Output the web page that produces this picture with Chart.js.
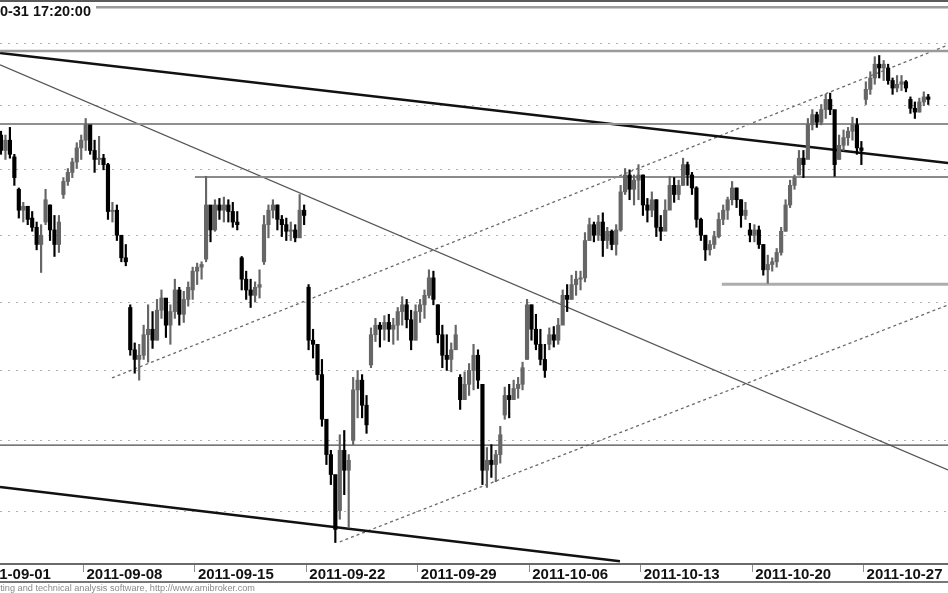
<!DOCTYPE html>
<html>
<head>
<meta charset="utf-8">
<script src="https://cdn.jsdelivr.net/npm/chart.js@4.4.1/dist/chart.umd.min.js"></script>
<style>
  html, body { margin: 0; padding: 0; background: #fff; }
  canvas { display: block; }
</style>
</head>
<body>
<canvas id="chart" width="948" height="593"></canvas>
<script>
// trading days shown on the chart (data starts on the 2nd one)
const days = [
  "2011-09-01", "2011-09-02", "2011-09-05", "2011-09-06", "2011-09-07", "2011-09-08", "2011-09-09",
  "2011-09-12", "2011-09-13", "2011-09-14", "2011-09-15", "2011-09-16",
  "2011-09-19", "2011-09-20", "2011-09-21", "2011-09-22", "2011-09-23",
  "2011-09-26", "2011-09-27", "2011-09-28", "2011-09-29", "2011-09-30",
  "2011-10-03", "2011-10-04", "2011-10-05", "2011-10-06", "2011-10-07",
  "2011-10-10", "2011-10-11", "2011-10-12", "2011-10-13", "2011-10-14",
  "2011-10-17", "2011-10-18", "2011-10-19", "2011-10-20", "2011-10-21",
  "2011-10-24", "2011-10-25", "2011-10-26", "2011-10-27", "2011-10-28",
  "2011-10-31"
];
const barsPerDay = 5;
const firstDay = 1;

const tickDays = [
  "2011-09-01", "2011-09-08", "2011-09-15", "2011-09-22", "2011-09-29",
  "2011-10-06", "2011-10-13", "2011-10-20", "2011-10-27"
];

const high = [
  2381, 2380, 2377, 2383, 2362, 2336, 2325, 2322, 2318, 2310,
  2308, 2335, 2323, 2315, 2315, 2344, 2351, 2359, 2371, 2377,
  2390, 2383, 2373, 2376, 2362, 2355, 2325, 2323, 2298, 2293,
  2248, 2220, 2219, 2233, 2248, 2243, 2252, 2259, 2252, 2248,
  2267, 2261, 2258, 2265, 2276, 2279, 2280, 2345, 2315, 2327,
  2328, 2329, 2327, 2325, 2318, 2284, 2273, 2267, 2265, 2274,
  2315, 2323, 2327, 2323, 2315, 2313, 2310, 2308, 2331, 2323,
  2263, 2230, 2219, 2208, 2163, 2143, 2122, 2154, 2157, 2140,
  2195, 2200, 2197, 2182, 2231, 2238, 2235, 2240, 2241, 2238,
  2246, 2254, 2252, 2244, 2248, 2252, 2259, 2274, 2273, 2248,
  2233, 2226, 2220, 2233, 2197, 2199, 2205, 2219, 2215, 2190,
  2145, 2147, 2143, 2160, 2188, 2190, 2193, 2195, 2206, 2252,
  2248, 2241, 2230, 2219, 2231, 2232, 2238, 2259, 2263, 2270,
  2273, 2273, 2302, 2313, 2310, 2315, 2317, 2306, 2304, 2308,
  2338, 2351, 2350, 2346, 2354, 2346, 2328, 2333, 2327, 2315,
  2327, 2345, 2344, 2342, 2359, 2356, 2348, 2337, 2313, 2300,
  2296, 2303, 2317, 2323, 2329, 2341, 2336, 2327, 2325, 2309,
  2308, 2307, 2293, 2285, 2283, 2290, 2306, 2327, 2342, 2346,
  2365, 2365, 2390, 2397, 2395, 2401, 2409, 2410, 2395, 2377,
  2381, 2383, 2391, 2390, 2372, 2419, 2427, 2439, 2440, 2436,
  2433, 2422, 2424, 2424, 2420, 2407, 2403, 2406, 2411, 2409
];
const low = [
  2365, 2362, 2358, 2359, 2338, 2313, 2310, 2308, 2303, 2289,
  2272, 2308, 2296, 2284, 2287, 2328, 2338, 2344, 2351, 2358,
  2365, 2362, 2348, 2354, 2350, 2312, 2310, 2296, 2280, 2277,
  2211, 2198, 2193, 2208, 2206, 2216, 2222, 2238, 2224, 2219,
  2238, 2233, 2235, 2247, 2252, 2263, 2267, 2280, 2295, 2303,
  2312, 2310, 2310, 2306, 2304, 2259, 2252, 2246, 2250, 2253,
  2278, 2298, 2313, 2304, 2299, 2296, 2296, 2295, 2300, 2308,
  2215, 2209, 2193, 2160, 2133, 2119, 2079, 2095, 2112, 2089,
  2147, 2166, 2166, 2155, 2202, 2221, 2217, 2222, 2221, 2219,
  2222, 2233, 2231, 2215, 2222, 2235, 2238, 2253, 2248, 2220,
  2202, 2200, 2199, 2216, 2172, 2179, 2182, 2186, 2187, 2119,
  2117, 2124, 2121, 2134, 2165, 2166, 2179, 2180, 2186, 2208,
  2222, 2215, 2204, 2195, 2215, 2217, 2219, 2237, 2243, 2252,
  2255, 2259, 2265, 2296, 2295, 2296, 2284, 2290, 2289, 2285,
  2303, 2331, 2327, 2323, 2327, 2315, 2310, 2314, 2299, 2296,
  2306, 2323, 2325, 2327, 2338, 2338, 2331, 2306, 2296, 2281,
  2285, 2290, 2298, 2308, 2312, 2323, 2321, 2306, 2312, 2295,
  2295, 2290, 2270, 2264, 2273, 2276, 2285, 2303, 2321, 2335,
  2346, 2344, 2362, 2381, 2383, 2385, 2390, 2393, 2345, 2358,
  2365, 2369, 2373, 2362, 2354, 2401, 2409, 2417, 2422, 2420,
  2417, 2409, 2411, 2412, 2411, 2394, 2390, 2395, 2400, 2401
];
const open = [
  2373, 2377, 2365, 2373, 2360, 2335, 2319, 2322, 2313, 2306,
  2293, 2310, 2323, 2304, 2293, 2331, 2341, 2348, 2356, 2367,
  2373, 2385, 2365, 2358, 2359, 2354, 2318, 2319, 2300, 2283,
  2246, 2215, 2208, 2211, 2226, 2230, 2222, 2244, 2253, 2233,
  2243, 2259, 2241, 2252, 2259, 2273, 2276, 2282, 2323, 2304,
  2323, 2319, 2323, 2318, 2310, 2283, 2267, 2259, 2255, 2261,
  2280, 2308, 2319, 2323, 2312, 2308, 2303, 2304, 2298, 2319,
  2261, 2222, 2219, 2197, 2165, 2140, 2126, 2101, 2143, 2129,
  2150, 2186, 2193, 2175, 2204, 2226, 2233, 2230, 2235, 2230,
  2233, 2243, 2248, 2237, 2222, 2243, 2248, 2255, 2268, 2248,
  2226, 2211, 2208, 2215, 2195, 2179, 2190, 2200, 2211, 2190,
  2129, 2136, 2133, 2140, 2168, 2182, 2179, 2187, 2190, 2208,
  2248, 2230, 2219, 2208, 2219, 2226, 2222, 2233, 2255, 2252,
  2263, 2267, 2268, 2296, 2308, 2300, 2310, 2296, 2303, 2293,
  2304, 2333, 2346, 2335, 2342, 2346, 2323, 2319, 2327, 2306,
  2303, 2319, 2338, 2331, 2338, 2354, 2346, 2336, 2312, 2300,
  2289, 2293, 2299, 2312, 2319, 2327, 2336, 2327, 2315, 2304,
  2300, 2304, 2293, 2274, 2278, 2280, 2287, 2303, 2323, 2338,
  2346, 2359, 2358, 2385, 2393, 2387, 2397, 2405, 2397, 2358,
  2369, 2375, 2380, 2385, 2367, 2405, 2413, 2422, 2433, 2430,
  2430, 2420, 2414, 2417, 2419, 2405, 2398, 2395, 2403, 2407
];
const close = [
  2377, 2365, 2373, 2362, 2344, 2319, 2322, 2312, 2306, 2293,
  2300, 2327, 2304, 2293, 2310, 2341, 2348, 2356, 2367, 2373,
  2385, 2365, 2358, 2359, 2354, 2318, 2319, 2300, 2283, 2280,
  2215, 2208, 2211, 2226, 2230, 2222, 2244, 2253, 2233, 2243,
  2259, 2241, 2252, 2261, 2273, 2276, 2278, 2323, 2304, 2323,
  2319, 2323, 2318, 2310, 2308, 2267, 2259, 2255, 2261, 2263,
  2308, 2319, 2323, 2312, 2308, 2303, 2304, 2298, 2319, 2315,
  2222, 2219, 2197, 2165, 2140, 2126, 2088, 2143, 2129, 2136,
  2186, 2193, 2175, 2161, 2226, 2233, 2230, 2235, 2230, 2233,
  2243, 2248, 2237, 2222, 2243, 2248, 2255, 2268, 2252, 2226,
  2211, 2208, 2215, 2226, 2179, 2190, 2200, 2211, 2193, 2129,
  2136, 2133, 2140, 2154, 2182, 2179, 2187, 2190, 2202, 2248,
  2230, 2219, 2208, 2200, 2226, 2222, 2233, 2255, 2252, 2263,
  2267, 2268, 2296, 2308, 2300, 2310, 2296, 2303, 2293, 2304,
  2333, 2346, 2335, 2342, 2346, 2323, 2319, 2327, 2306, 2303,
  2319, 2338, 2331, 2338, 2354, 2346, 2336, 2312, 2300, 2289,
  2293, 2299, 2312, 2319, 2327, 2336, 2327, 2315, 2319, 2300,
  2304, 2293, 2274, 2278, 2280, 2287, 2303, 2323, 2338, 2344,
  2359, 2354, 2385, 2393, 2387, 2397, 2405, 2397, 2354, 2369,
  2375, 2380, 2385, 2367, 2365, 2413, 2422, 2433, 2430, 2433,
  2420, 2414, 2417, 2419, 2414, 2398, 2395, 2403, 2407, 2405
];

// horizontal levels: price and the bar where each one starts
const levelPrices = [2479, 2443.6, 2385.7, 2344.5, 2263.3, 2146.7];
const levelStart = [5.78, 5.78, 5.78, 49.5, 167.7, 5.78];

// trend lines, [bar, price] at each end
const trendUpper = [[5.78, 2442.0], [218.43, 2355.3]];
const trendFalling = [[5.78, 2432.5], [218.43, 2129.3]];
const trendLower = [[5.78, 2117.4], [144.85, 2066.2]];
const supportUpper = [[30.9, 2194.6], [218.43, 2448.4]];
const supportLower = [[82.0, 2079.5], [218.43, 2247.9]];

const gridPrices = [2100, 2150, 2200, 2250, 2300, 2350, 2400, 2450];

// visible window
const xMin = 5.78, xMax = 218.43;
const yMin = 2064.4, yMax = 2484.9;

Chart.defaults.font.family = '"Liberation Sans", Arial, sans-serif';

const xs = high.map((_, i) => firstDay * barsPerDay + i);
const barColors = close.map((c, i) => (c >= open[i] ? "#666666" : "#000000"));

function seg(points) {
    return points.map((p) => ({ x: p[0], y: p[1] }));
}

function lineSet(points, color, width, dash) {
    return {
        type: "line",
        data: seg(points),
        borderColor: color,
        borderWidth: width,
        borderDash: dash || [],
        pointRadius: 0,
        fill: false,
        order: 3,
    };
}

const levelStyles = [
    ["#9a9a9a", 2.5],
    ["#9a9a9a", 2.5],
    ["#8f8f8f", 2],
    ["#8a8a8a", 2],
    ["#adadad", 3],
    ["#4a4a4a", 1.2],
];

const datasets = [];
levelPrices.forEach((p, i) => {
    datasets.push(lineSet([[levelStart[i], p], [xMax, p]], levelStyles[i][0], levelStyles[i][1]));
});
datasets.push(lineSet(trendUpper, "#111", 2.5));
datasets.push(lineSet(trendFalling, "#555", 1.3));
datasets.push(lineSet(trendLower, "#111", 2.5));
datasets.push(lineSet(supportUpper, "#6a6a6a", 1.3, [3, 3]));
datasets.push(lineSet(supportLower, "#6a6a6a", 1.3, [3, 3]));

datasets.push({
    type: "bar",
    data: xs.map((x, i) => ({ x: x, y: [low[i], high[i]] })),
    backgroundColor: barColors,
    barThickness: 1.5,
    grouped: false,
    order: 2,
});
datasets.push({
    type: "bar",
    data: xs.map((x, i) => ({ x: x, y: [open[i], close[i]] })),
    backgroundColor: barColors,
    barThickness: 3.5,
    minBarLength: 1,
    grouped: false,
    order: 1,
});

const frame = {
    id: "frame",
    afterDraw(chart) {
        const ctx = chart.ctx;
        const w = chart.width;
        ctx.save();
        ctx.fillStyle = "#5a5a5a";
        ctx.fillRect(0, 0, w, 2);

        ctx.font = 'bold 14.5px "Liberation Sans", Arial, sans-serif';
        const title = "2011-10-31 17:20:00";
        const tw = ctx.measureText(title).width;
        ctx.fillStyle = "#fff";
        ctx.fillRect(0, 2, 96, 17);
        ctx.fillStyle = "#111";
        ctx.textBaseline = "alphabetic";
        ctx.fillText(title, 91 - tw, 16);

        ctx.fillStyle = "#777";
        ctx.fillRect(0, 581, w, 2);

        ctx.font = '9.2px "Liberation Sans", Arial, sans-serif';
        const foot = "AmiBroker - charting and technical analysis software, http://www.amibroker.com";
        const fw = ctx.measureText(foot).width;
        ctx.fillStyle = "#8a8a8a";
        ctx.fillText(foot, 255 - fw, 591);
        ctx.restore();
    },
};

new Chart(document.getElementById("chart"), {
    type: "bar",
    data: { datasets: datasets },
    options: {
        responsive: false,
        animation: false,
        events: [],
        layout: { padding: 0 },
        plugins: {
            legend: { display: false },
            tooltip: { enabled: false },
        },
        scales: {
            x: {
                type: "linear",
                min: xMin,
                max: xMax,
                bounds: "data",
                offset: false,
                afterBuildTicks: (s) => {
                    s.ticks = tickDays.map((d) => ({ value: days.indexOf(d) * barsPerDay - 0.5 }));
                },
                afterFit: (s) => {
                    s.height = 29;
                    s.paddingLeft = 0;
                    s.paddingRight = 0;
                },
                grid: {
                    drawOnChartArea: false,
                    drawTicks: true,
                    tickLength: 8,
                    color: "#8c8c8c",
                    offset: false,
                },
                border: { display: true, color: "#6a6a6a", width: 2 },
                ticks: {
                    autoSkip: false,
                    maxRotation: 0,
                    align: "start",
                    labelOffset: 3,
                    padding: -6,
                    color: "#111",
                    font: { size: 15, weight: "bold" },
                    callback: (v, i) => tickDays[i],
                },
            },
            y: {
                type: "logarithmic",
                min: yMin,
                max: yMax,
                bounds: "data",
                afterBuildTicks: (s) => {
                    s.ticks = gridPrices.map((v) => ({ value: v }));
                },
                afterFit: (s) => {
                    s.width = 0;
                    s.paddingTop = 0;
                    s.paddingBottom = 0;
                },
                grid: { color: "#b0b0b0", drawTicks: false },
                border: { display: false, dash: [2, 6] },
                ticks: { display: false },
            },
        },
    },
    plugins: [frame],
});
</script>
</body>
</html>
